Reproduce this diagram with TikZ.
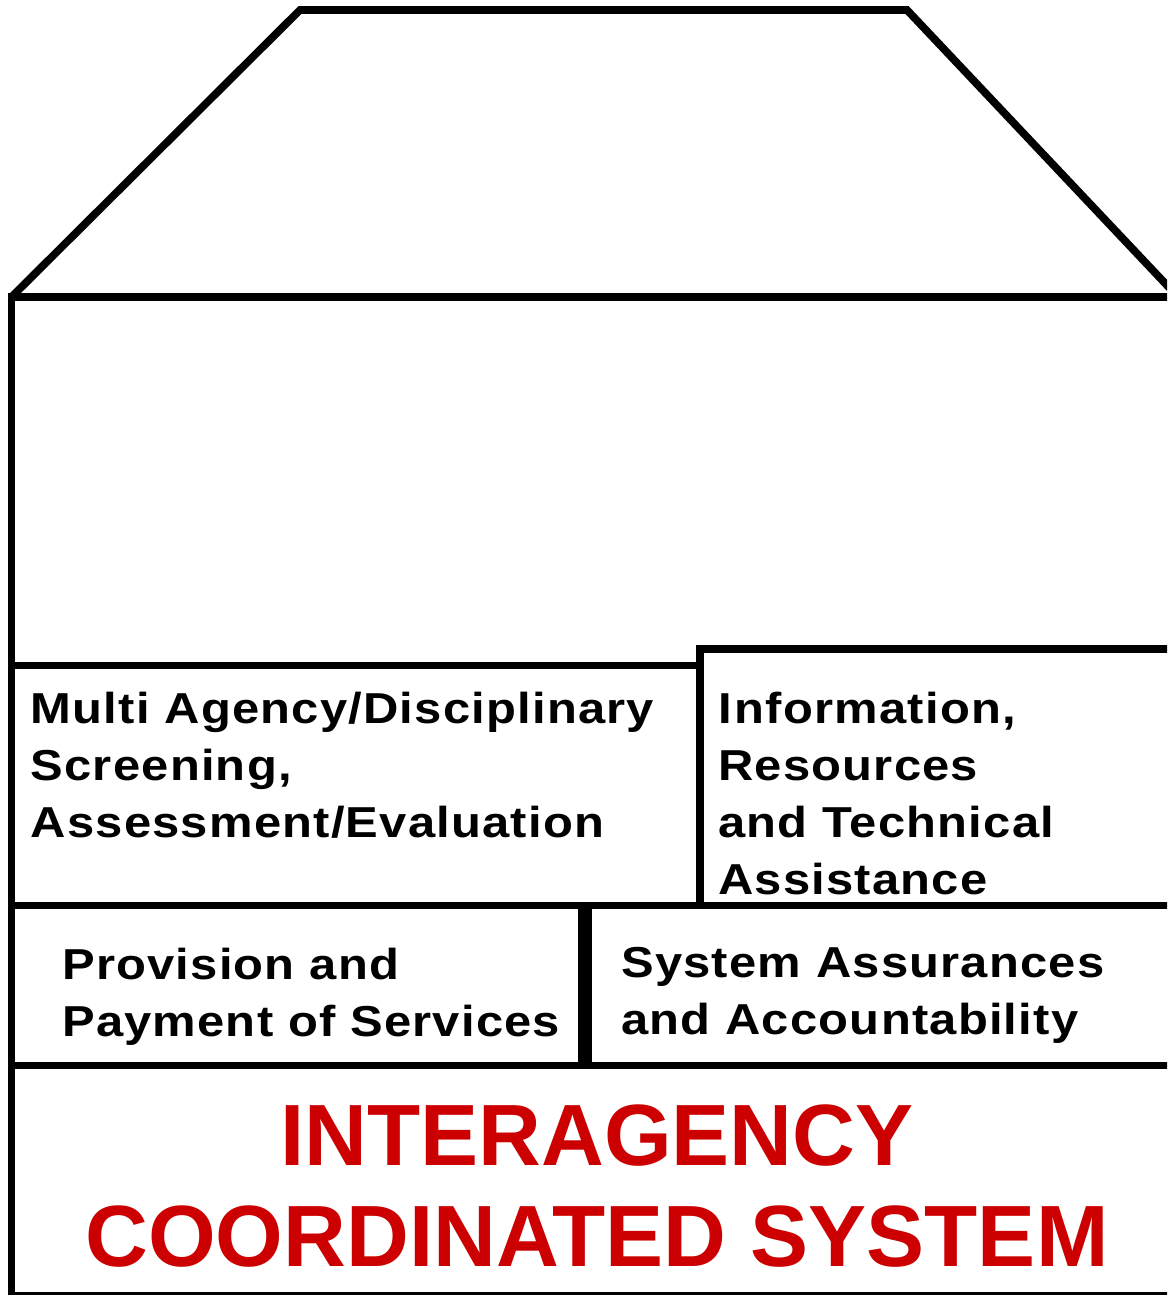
\documentclass[tikz,border=0pt]{standalone}
\usepackage{fontspec}
\setmainfont{Liberation Sans}
\newfontfamily\lblfont{Liberation Sans}[FakeStretch=1.13,LetterSpace=2.8]
\newfontfamily\titlefont{Liberation Sans}
\definecolor{titlered}{RGB}{204,0,0}
\newcommand\textstack[1]{\vtop{\baselineskip=57pt\lineskiplimit=-200pt\lineskip=0pt\halign{##\hfil\cr#1\crcr}}}
\tikzset{
  wall/.style={line width=7.7pt, line join=miter, draw=black},
  lbl/.style={font=\lblfont\bfseries\fontsize{43.3}{57}\selectfont, inner sep=0pt, text=black},
  ttl/.style={font=\titlefont\bfseries\fontsize{87}{100}\selectfont, inner sep=0pt, text=titlered},
}
\begin{document}
\begin{tikzpicture}[x=1pt,y=-1pt]
\useasboundingbox (0,0) rectangle (1167,1295);
\clip (0,0) rectangle (1167,1295);
% roof
\draw[wall] (11.5,297) -- (300,10) -- (907,10) -- (1178,297);
% house outline
\draw[wall] (1200,297) -- (11.5,297) -- (11.5,1300);
% row 1
\draw[wall] (11.5,665.5) -- (700,665.5);
\draw[wall] (700,905.5) -- (700,649) -- (1200,649);
\draw[wall] (11.5,905.5) -- (1200,905.5);
% row 2
\draw[line width=13.5pt] (585,905.5) -- (585,1065.5);
\draw[wall] (11.5,1065.5) -- (1200,1065.5);
% bottom
\draw[wall] (11.5,1295.5) -- (1200,1295.5);
% labels
\node[lbl, anchor=base west] (multi) at (30.5,723) {\textstack{Multi Agency/Disciplinary\cr Screening,\cr Assessment/Evaluation}};
\node[lbl, anchor=base west] (info) at (718,723.3) {\textstack{I\kern3pt nformation,\cr Resources\cr and Technical\cr Assistance}};
\node[lbl, anchor=base west] (prov) at (62,979) {\textstack{Provision and\cr Payment of Services}};
\node[lbl, anchor=base west] (sys) at (621,977) {\textstack{System Assurances\cr and Accountability}};
\node[ttl, anchor=base] (t1) at (597,1165) {INTERAGENCY};
\node[ttl, anchor=base] (t2) at (597,1266.7) {COORDINATED SYSTEM};
\end{tikzpicture}
\end{document}
